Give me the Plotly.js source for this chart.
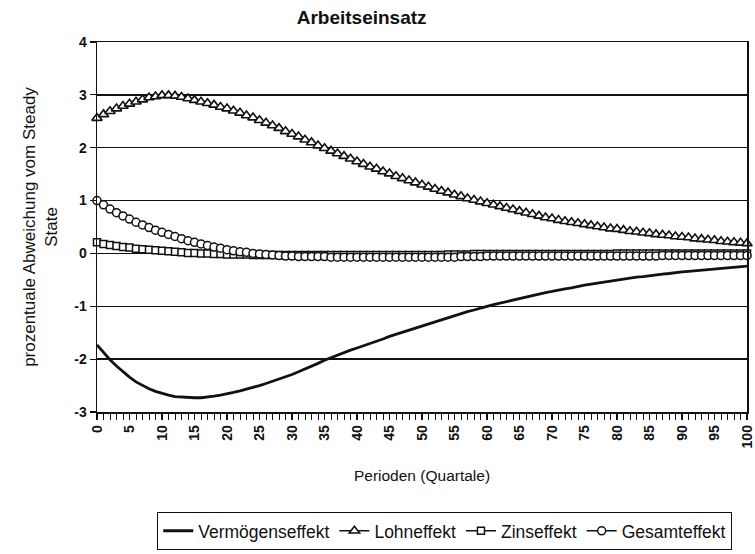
<!DOCTYPE html>
<html>
<head>
<meta charset="utf-8">
<script src="https://cdn.plot.ly/plotly-3.0.1.min.js"></script>
<style>html,body{margin:0;padding:0;background:#fff;}#chart{width:755px;height:554px;}</style>
</head>
<body>
<div id="chart"></div>
<script>
// Periods 0..100 (quarters)
const perioden = Array.from({length: 101}, (_, i) => i);

const vermoegenseffekt = [
 -1.73,-1.88,-2.01,-2.13,-2.24,-2.34,-2.43,-2.50,-2.56,-2.61,
 -2.65,-2.68,-2.71,-2.72,-2.73,-2.73,-2.73,-2.72,-2.70,-2.68,
 -2.66,-2.63,-2.60,-2.57,-2.54,-2.50,-2.46,-2.42,-2.38,-2.33,
 -2.29,-2.24,-2.19,-2.14,-2.08,-2.02,-1.97,-1.92,-1.88,-1.83,
 -1.79,-1.75,-1.71,-1.66,-1.62,-1.57,-1.53,-1.49,-1.45,-1.41,
 -1.37,-1.33,-1.29,-1.25,-1.21,-1.18,-1.14,-1.10,-1.07,-1.03,
 -1.00,-0.97,-0.94,-0.91,-0.88,-0.85,-0.82,-0.79,-0.77,-0.74,
 -0.72,-0.69,-0.67,-0.65,-0.62,-0.60,-0.58,-0.56,-0.54,-0.52,
 -0.50,-0.49,-0.47,-0.45,-0.44,-0.42,-0.41,-0.39,-0.38,-0.36,
 -0.35,-0.34,-0.33,-0.31,-0.30,-0.29,-0.28,-0.27,-0.26,-0.25,
 -0.24
];

const lohneffekt = [
 2.56,2.63,2.69,2.74,2.79,2.83,2.87,2.91,2.95,2.97,
 2.99,2.99,2.98,2.96,2.93,2.90,2.87,2.84,2.81,2.77,
 2.74,2.70,2.66,2.61,2.57,2.52,2.47,2.42,2.37,2.31,
 2.26,2.21,2.15,2.10,2.04,1.99,1.94,1.89,1.84,1.79,
 1.74,1.69,1.64,1.60,1.55,1.51,1.46,1.42,1.38,1.34,
 1.30,1.26,1.22,1.18,1.15,1.11,1.08,1.04,1.01,0.98,
 0.95,0.92,0.89,0.86,0.83,0.80,0.77,0.74,0.71,0.68,
 0.66,0.63,0.61,0.59,0.57,0.55,0.53,0.51,0.49,0.47,
 0.46,0.44,0.42,0.41,0.39,0.38,0.36,0.35,0.34,0.32,
 0.31,0.30,0.28,0.27,0.26,0.25,0.23,0.22,0.21,0.20,
 0.19
];

const zinseffekt = [
 0.21,0.18,0.16,0.14,0.12,0.11,0.09,0.08,0.07,0.06,
 0.05,0.04,0.03,0.02,0.01,0.01,0.00,0.00,-0.01,-0.01,
 -0.02,-0.02,-0.02,-0.02,-0.03,-0.03,-0.03,-0.03,-0.03,-0.03,
 -0.03,-0.03,-0.03,-0.03,-0.03,-0.03,-0.03,-0.03,-0.03,-0.03,
 -0.03,-0.03,-0.03,-0.03,-0.03,-0.03,-0.03,-0.03,-0.03,-0.03,
 -0.03,-0.03,-0.03,-0.03,-0.02,-0.02,-0.02,-0.02,-0.01,-0.01,
 -0.01,-0.01,-0.01,-0.01,-0.01,-0.01,-0.01,-0.01,-0.01,-0.01,
 -0.01,-0.01,-0.01,-0.01,-0.01,-0.01,-0.01,-0.01,-0.01,-0.01,
 0.00,0.00,0.00,0.00,0.00,0.00,0.00,0.00,0.00,0.00,
 0.00,0.00,0.00,0.00,0.00,0.00,0.00,0.00,0.00,0.00,
 0.00
];

const gesamteffekt = [
 1.00,0.92,0.84,0.77,0.71,0.65,0.59,0.54,0.49,0.44,
 0.40,0.36,0.32,0.28,0.24,0.21,0.18,0.15,0.12,0.10,
 0.07,0.05,0.03,0.02,0.00,-0.01,-0.02,-0.03,-0.04,-0.05,
 -0.05,-0.06,-0.06,-0.06,-0.06,-0.06,-0.07,-0.07,-0.07,-0.07,
 -0.07,-0.07,-0.07,-0.07,-0.07,-0.07,-0.07,-0.07,-0.07,-0.07,
 -0.07,-0.07,-0.07,-0.07,-0.07,-0.07,-0.06,-0.06,-0.06,-0.06,
 -0.05,-0.05,-0.05,-0.05,-0.05,-0.05,-0.05,-0.05,-0.05,-0.05,
 -0.05,-0.05,-0.05,-0.05,-0.05,-0.05,-0.05,-0.05,-0.05,-0.05,
 -0.05,-0.05,-0.05,-0.05,-0.05,-0.05,-0.05,-0.04,-0.04,-0.04,
 -0.04,-0.04,-0.04,-0.04,-0.04,-0.04,-0.04,-0.04,-0.04,-0.04,
 -0.04
];

const xTickVals = [0,5,10,15,20,25,30,35,40,45,50,55,60,65,70,75,80,85,90,95,100];
const yTickVals = [-3,-2,-1,0,1,2,3,4];

const FONT = 'Liberation Sans, Arial, sans-serif';

const traces = [
  {
    x: perioden, y: vermoegenseffekt, name: 'Vermögenseffekt',
    type: 'scatter', mode: 'lines', cliponaxis: false,
    line: {color: '#111', width: 2.8}
  },
  {
    x: perioden, y: lohneffekt, name: 'Lohneffekt',
    type: 'scatter', mode: 'lines+markers', cliponaxis: false,
    line: {color: '#111', width: 1.5},
    marker: {symbol: 'triangle-up', size: 9, color: '#fff', line: {color: '#111', width: 1.6}}
  },
  {
    x: perioden, y: zinseffekt, name: 'Zinseffekt',
    type: 'scatter', mode: 'lines+markers', cliponaxis: false,
    line: {color: '#111', width: 1.5},
    marker: {symbol: 'square', size: 7, color: '#fff', line: {color: '#111', width: 1.5}}
  },
  {
    x: perioden, y: gesamteffekt, name: 'Gesamteffekt',
    type: 'scatter', mode: 'lines+markers', cliponaxis: false,
    line: {color: '#111', width: 1.5},
    marker: {symbol: 'circle', size: 8, color: '#fff', line: {color: '#111', width: 1.5}}
  }
];

const layout = {
  width: 755, height: 554,
  margin: {l: 97, r: 8, t: 42, b: 142, autoexpand: false},
  paper_bgcolor: '#fff', plot_bgcolor: '#fff',
  font: {family: FONT, size: 15, color: '#111'},
  title: {text: '<b>Arbeitseinsatz</b>', font: {family: FONT, size: 19, color: '#111'},
          xref: 'container', x: 0.479, xanchor: 'center', yref: 'container', y: 0.968, yanchor: 'middle'},
  showlegend: true,
  legend: {
    orientation: 'h', x: 0.535, xanchor: 'center', y: -0.27, yanchor: 'top',
    bordercolor: '#111', borderwidth: 1, bgcolor: '#fff',
    font: {family: FONT, size: 17.5, color: '#111'},
    itemwidth: 30, tracegroupgap: 0
  },
  xaxis: {
    range: [0, 100.0001], tickmode: 'array', tickvals: xTickVals,
    ticktext: xTickVals.map(v => '<b>' + v + '</b>'), tickangle: -90,
    ticklabeloverflow: 'allow',
    ticks: 'outside', ticklen: 6, tickwidth: 1.2, tickcolor: '#111',
    minor: {dtick: 1, ticks: 'outside', ticklen: 6, tickwidth: 1, tickcolor: '#111', showgrid: false},
    showline: true, linecolor: '#111', linewidth: 1.5, mirror: true,
    showgrid: false, zeroline: false,
    tickfont: {family: FONT, size: 14, color: '#111'},
    title: {text: 'Perioden (Quartale)', font: {family: FONT, size: 15.5, color: '#111'}, standoff: 22}
  },
  yaxis: {
    range: [-3, 4], tickmode: 'array', tickvals: yTickVals,
    ticktext: yTickVals.map(v => '<b>' + v + '</b>'),
    ticks: 'outside', ticklen: 6, tickwidth: 1.2, tickcolor: '#111',
    showline: true, linecolor: '#111', linewidth: 1.5, mirror: true,
    showgrid: true, gridcolor: '#111', gridwidth: 1.4, zeroline: false,
    tickfont: {family: FONT, size: 14, color: '#111'},
    title: {text: 'prozentuale Abweichung vom Steady<br>State', font: {family: FONT, size: 17, color: '#111'}, standoff: 12}
  }
};

Plotly.newPlot('chart', traces, layout, {displayModeBar: false, staticPlot: true});
</script>
</body>
</html>
